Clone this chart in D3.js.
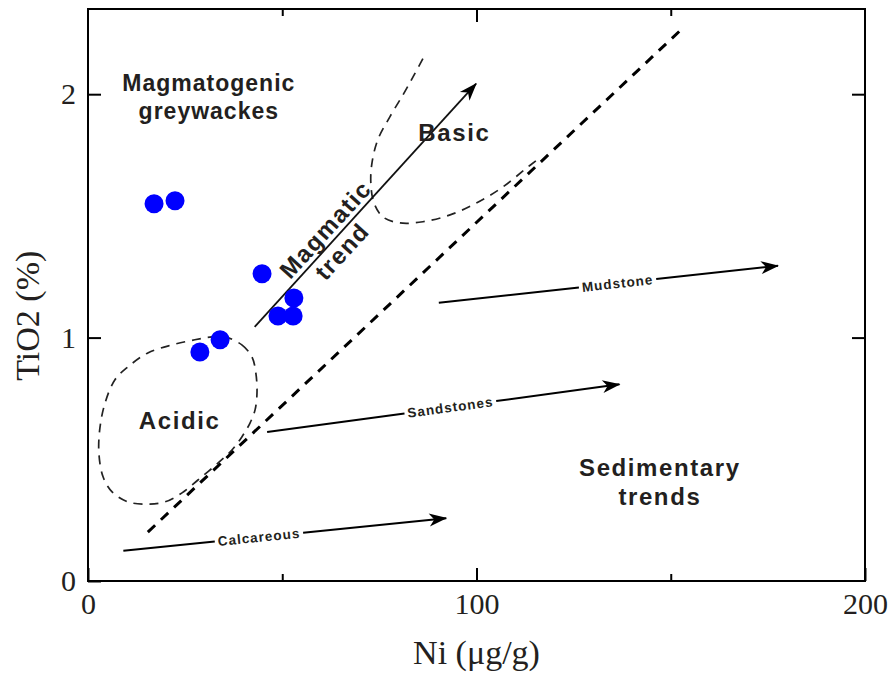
<!DOCTYPE html>
<html>
<head>
<meta charset="utf-8">
<script src="https://cdn.jsdelivr.net/npm/d3@7"></script>
<style>
  body { margin: 0; background: #fff; }
  svg { display: block; }
</style>
</head>
<body>
<svg id="chart"></svg>
<script>
// samples (Ni in ug/g, TiO2 in %)
const sampleNi = [17.0, 22.4, 44.8, 53.0, 48.9, 52.8, 28.8, 34.0];
const sampleTi = [1.550, 1.562, 1.262, 1.163, 1.089, 1.089, 0.941, 0.991];

const xTicks = [0, 100, 200];
const xMinorTicks = [50, 150];
const yTicks = [0, 1, 2];

// field outlines, [Ni, TiO2]
const acidicField = [
  [35.3, 1.003], [39.6, 0.970], [42.2, 0.921], [43.2, 0.855], [43.5, 0.773],
  [43.0, 0.703], [41.7, 0.649], [39.6, 0.592], [37.1, 0.539], [33.5, 0.485],
  [28.3, 0.415], [24.2, 0.362], [19.8, 0.325], [15.4, 0.316], [10.3, 0.325],
  [6.2, 0.366], [3.9, 0.427], [2.8, 0.526], [3.1, 0.633], [4.4, 0.732],
  [6.9, 0.826], [10.3, 0.880], [15.4, 0.937], [21.6, 0.970], [27.5, 0.991],
  [31.9, 1.003]
];
const basicField = [
  [86.2, 2.146], [83.7, 2.072], [81.1, 1.998], [77.7, 1.907], [74.6, 1.813],
  [73.1, 1.718], [72.8, 1.636], [73.6, 1.554], [75.9, 1.496], [80.3, 1.471],
  [86.2, 1.476], [93.2, 1.504], [100.1, 1.554], [106.8, 1.619], [113.0, 1.698],
  [115.6, 1.730]
];
const boundaryLine = [[15.4, 0.201], [153.2, 2.273]];
const magmaticTrend = [[42.9, 1.044], [99.9, 2.043]];

const trendNames = ['Calcareous', 'Sandstones', 'Mudstone'];
const trendFrom = [[9.1, 0.124], [46.1, 0.612], [90.3, 1.143]];
const trendTo = [[92.2, 0.258], [136.8, 0.808], [177.6, 1.295]];
const trendLabelAt = [0.42, 0.52, 0.527];

const width = 888, height = 674;
const margin = { top: 9, right: 23, bottom: 93, left: 88 };

const svg = d3.select('#chart')
  .attr('width', width)
  .attr('height', height);

const x = d3.scaleLinear().domain([0, 200]).range([margin.left, width - margin.right]);
const y = d3.scaleLinear().domain([0, 2.35]).range([height - margin.bottom, margin.top]);

const ink = '#231f20';

svg.append('defs').append('marker')
  .attr('id', 'head')
  .attr('markerUnits', 'userSpaceOnUse')
  .attr('viewBox', '-20 -8 22 16')
  .attr('markerWidth', 22)
  .attr('markerHeight', 16)
  .attr('refX', 0)
  .attr('refY', 0)
  .attr('orient', 'auto')
  .append('path')
  .attr('d', 'M1,0 L-17,-6.5 L-12,0 L-17,6.5 Z')
  .attr('fill', '#000');

// axes
const serif = '"Liberation Serif", "Times New Roman", serif';

const gx = svg.append('g')
  .attr('transform', `translate(0,${ y(0) })`)
  .call(d3.axisBottom(x).tickValues(xTicks).tickSizeInner(-13).tickSizeOuter(0).tickPadding(12).tickFormat(d3.format('d')));
svg.append('g')
  .attr('transform', `translate(0,${ y(0) })`)
  .call(d3.axisBottom(x).tickValues(xMinorTicks).tickSizeInner(-7).tickSizeOuter(0).tickFormat(''));
svg.append('g')
  .attr('transform', `translate(0,${ y(2.35) })`)
  .call(d3.axisTop(x).tickValues([100]).tickSizeInner(-13).tickSizeOuter(0).tickFormat(''));
svg.append('g')
  .attr('transform', `translate(0,${ y(2.35) })`)
  .call(d3.axisTop(x).tickValues(xMinorTicks).tickSizeInner(-7).tickSizeOuter(0).tickFormat(''));

const gy = svg.append('g')
  .attr('transform', `translate(${ x(0) },0)`)
  .call(d3.axisLeft(y).tickValues(yTicks).tickSizeInner(-13).tickSizeOuter(0).tickPadding(12).tickFormat(d3.format('d')));
svg.append('g')
  .attr('transform', `translate(${ x(200) },0)`)
  .call(d3.axisRight(y).tickValues([1, 2]).tickSizeInner(-13).tickSizeOuter(0).tickFormat(''));

svg.selectAll('.domain').remove();
svg.selectAll('.tick line').attr('stroke', '#000').attr('stroke-width', 2);
[gx, gy].forEach(g => g.selectAll('text')
  .attr('font-family', serif)
  .attr('font-size', 30)
  .attr('fill', ink));

svg.append('rect')
  .attr('x', x(0))
  .attr('y', y(2.35))
  .attr('width', x(200) - x(0))
  .attr('height', y(0) - y(2.35))
  .attr('fill', 'none')
  .attr('stroke', '#000')
  .attr('stroke-width', 2);

svg.append('text')
  .attr('x', x(100))
  .attr('y', 664)
  .attr('text-anchor', 'middle')
  .attr('font-family', serif)
  .attr('font-size', 34)
  .attr('fill', ink)
  .text('Ni (μg/g)');

svg.append('text')
  .attr('transform', `translate(39,${ y(1.09) }) rotate(-90)`)
  .attr('text-anchor', 'middle')
  .attr('font-family', serif)
  .attr('font-size', 34)
  .attr('fill', ink)
  .text('TiO2 (%)');

// fields
const line = d3.line().x(d => x(d[0])).y(d => y(d[1]));

svg.append('path')
  .datum(acidicField)
  .attr('d', line.curve(d3.curveCatmullRomClosed))
  .attr('fill', 'none')
  .attr('stroke', '#222')
  .attr('stroke-width', 1.7)
  .attr('stroke-dasharray', '9,7');

svg.append('path')
  .datum(basicField)
  .attr('d', line.curve(d3.curveCatmullRom))
  .attr('fill', 'none')
  .attr('stroke', '#222')
  .attr('stroke-width', 1.7)
  .attr('stroke-dasharray', '9,7');

svg.append('path')
  .datum(boundaryLine)
  .attr('d', line.curve(d3.curveLinear))
  .attr('fill', 'none')
  .attr('stroke', '#000')
  .attr('stroke-width', 3)
  .attr('stroke-dasharray', '10,8');

// magmatic trend arrow
svg.append('path')
  .datum(magmaticTrend)
  .attr('d', line.curve(d3.curveLinear))
  .attr('stroke', '#111')
  .attr('stroke-width', 1.8)
  .attr('marker-end', 'url(#head)');

const sans = '"Liberation Sans", Arial, sans-serif';

// sedimentary trend arrows, the label sits in a gap of the line
trendNames.forEach((name, i) => {
  const p0 = [x(trendFrom[i][0]), y(trendFrom[i][1])];
  const p1 = [x(trendTo[i][0]), y(trendTo[i][1])];
  const dx = p1[0] - p0[0], dy = p1[1] - p0[1];
  const len = Math.hypot(dx, dy);
  const u = [dx / len, dy / len];
  const t = trendLabelAt[i];
  const c = [p0[0] + dx * t, p0[1] + dy * t];
  const angle = Math.atan2(dy, dx) * 180 / Math.PI;

  const label = svg.append('text')
    .attr('transform', `translate(${ c[0] },${ c[1] }) rotate(${ angle })`)
    .attr('text-anchor', 'middle')
    .attr('dy', '0.35em')
    .attr('font-family', sans)
    .attr('font-weight', 'bold')
    .attr('font-size', 13.5)
    .attr('letter-spacing', 1)
    .attr('fill', ink)
    .text(name);
  const half = label.node().getComputedTextLength() / 2 + 3;

  svg.append('line')
    .attr('x1', p0[0]).attr('y1', p0[1])
    .attr('x2', c[0] - u[0] * half).attr('y2', c[1] - u[1] * half)
    .attr('stroke', '#000').attr('stroke-width', 2);
  svg.append('line')
    .attr('x1', c[0] + u[0] * half).attr('y1', c[1] + u[1] * half)
    .attr('x2', p1[0]).attr('y2', p1[1])
    .attr('stroke', '#000').attr('stroke-width', 2)
    .attr('marker-end', 'url(#head)');
});

// field labels
const fieldLabel = (lines, nx, ty, gap, size, spacing) => {
  const txt = svg.append('text')
    .attr('text-anchor', 'middle')
    .attr('font-family', sans)
    .attr('font-weight', 'bold')
    .attr('font-size', size)
    .attr('letter-spacing', spacing)
    .attr('fill', ink);
  lines.forEach((s, k) => txt.append('tspan')
    .attr('x', x(nx))
    .attr('y', y(ty) + k * gap)
    .text(s));
};
fieldLabel(['Magmatogenic', 'greywackes'], 31.1, 2.014, 28, 23, 1);
fieldLabel(['Basic'], 94.3, 1.808, 0, 24, 1.6);
fieldLabel(['Acidic'], 23.6, 0.625, 0, 24, 1.6);
fieldLabel(['Sedimentary', 'trends'], 147.2, 0.432, 29, 24, 1.6);

// rotated label on the magmatic arrow
{
  const a = [x(magmaticTrend[0][0]), y(magmaticTrend[0][1])];
  const b = [x(magmaticTrend[1][0]), y(magmaticTrend[1][1])];
  const angle = Math.atan2(b[1] - a[1], b[0] - a[0]) * 180 / Math.PI;
  const t = 0.364;
  const c = [a[0] + (b[0] - a[0]) * t, a[1] + (b[1] - a[1]) * t];
  const g = svg.append('g')
    .attr('transform', `translate(${ c[0] },${ c[1] }) rotate(${ angle })`)
    .attr('font-family', sans)
    .attr('font-weight', 'bold')
    .attr('font-size', 24)
    .attr('letter-spacing', 1.5)
    .attr('text-anchor', 'middle')
    .attr('fill', ink);
  g.append('text').attr('x', 0).attr('y', -5).text('Magmatic');
  g.append('text').attr('x', -5).attr('y', 22).text('trend');
}

// samples
svg.append('g')
  .selectAll('circle')
  .data(sampleNi.map((n, i) => [n, sampleTi[i]]))
  .join('circle')
  .attr('cx', d => x(d[0]))
  .attr('cy', d => y(d[1]))
  .attr('r', 9.5)
  .attr('fill', '#0000ff');
</script>
</body>
</html>
